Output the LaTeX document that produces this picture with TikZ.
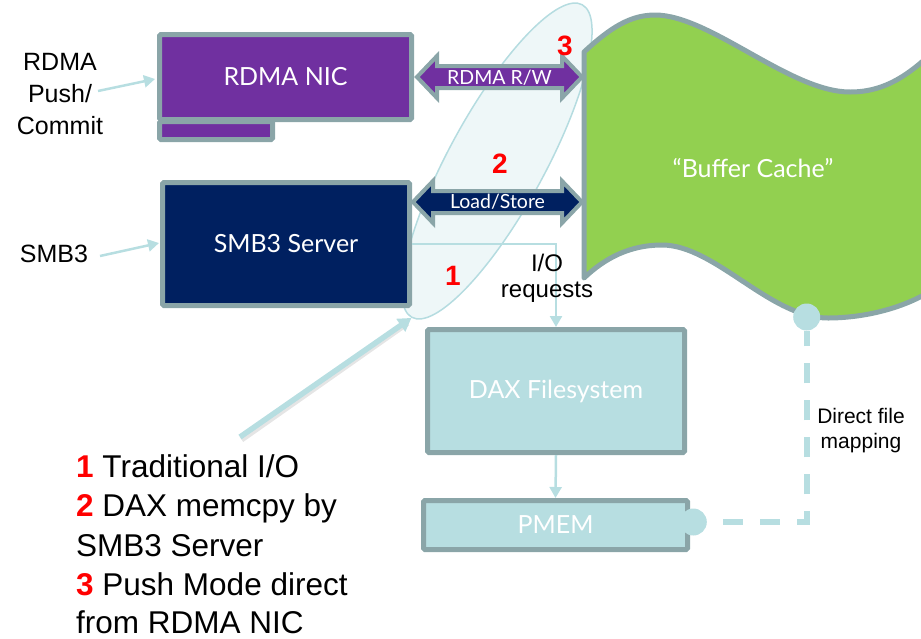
\documentclass[tikz,border=0pt]{standalone}
\usepackage{fontspec}
\setmainfont{Liberation Sans}
\newfontfamily\boxfont{Lato}
\usetikzlibrary{shapes.geometric,arrows.meta,calc}

\definecolor{edgegray}{HTML}{8AA5A8}
\definecolor{nicpurple}{HTML}{7030A0}
\definecolor{smbnavy}{HTML}{002060}
\definecolor{cachegreen}{HTML}{92D050}
\definecolor{paleblue}{HTML}{B7DEE1}
\definecolor{zonefill}{HTML}{EEF7F8}
\definecolor{zoneedge}{HTML}{B5DCE0}
\definecolor{tagred}{HTML}{FF0000}

% double-headed block arrow between two tips
\newcommand\twowayarrow[3]{%
  \draw[twoway, fill=#3] (#1) -- ++(20,-21) -- ++(0,10) -- ($(#2)+(-20,-11)$)
    -- ++(0,-10) -- (#2) -- ++(-20,21) -- ++(0,-10) -- ($(#1)+(20,11)$)
    -- ++(0,10) -- cycle;}

\tikzset{
  box/.style={draw=edgegray, line width=5pt, rounded corners=1.5pt, inner sep=0pt,
    text=white, font=\boxfont\fontsize{25}{30}\selectfont},
  twoway/.style={draw=edgegray, line width=4pt, line join=miter, miter limit=10},
  arrowlabel/.style={inner sep=0pt, text=white, font=\boxfont\fontsize{19.5}{20}\selectfont},
  feed/.style={draw=paleblue, line width=2.5pt, -{Triangle[width=12pt,length=11pt]}},
  plain/.style={inner sep=0pt, align=center},
  tag/.style={inner sep=0pt, text=tagred, font=\bfseries\fontsize{28}{30}\selectfont},
  legend/.style={inner sep=0pt, anchor=base west, font=\fontsize{31.5}{36}\selectfont},
  dot/.style={circle, fill=paleblue, minimum size=27pt, inner sep=0pt},
}

\begin{document}
\begin{tikzpicture}[x=1pt, y=-1pt]
\useasboundingbox (0,0) rectangle (921,638);

% highlighted zone around the three data paths
\node[ellipse, draw=zoneedge, fill=zonefill, line width=1.5pt, inner sep=0pt,
      minimum width=356pt, minimum height=96pt, rotate=61.4] (zone) at (497,161) {};

% buffer cache flag
\draw[draw=edgegray, fill=cachegreen, line width=5pt, line join=round]
  (584,52) .. controls (610,28) and (630,15) .. (655,15)
  .. controls (710,15) and (790,92) .. (850,92)
  .. controls (885,92) and (910,75) .. (940,45)
  -- (940,285)
  .. controls (905,310) and (860,318) .. (828,318)
  .. controls (770,318) and (715,245) .. (662,245)
  .. controls (630,245) and (605,258) .. (584,278) -- cycle;
\node[inner sep=0pt, text=white, font=\boxfont\fontsize{25}{30}\selectfont] (cache) at (753,168) {“Buffer Cache”};

% RDMA NIC card with its edge connector
\node[box, fill=nicpurple, minimum width=113pt, minimum height=18pt] (tab) at (216,130.5) {};
\node[box, fill=nicpurple, minimum width=252pt, minimum height=85pt] (nic) at (285.5,77) {RDMA NIC};

% SMB3 server
\node[box, fill=smbnavy, minimum width=247pt, minimum height=123pt] (smb) at (286,244) {SMB3 Server};

% DAX filesystem and PMEM
\node[box, fill=paleblue, minimum width=257pt, minimum height=123pt] (dax) at (556,391) {DAX Filesystem};
\node[box, fill=paleblue, minimum width=264pt, minimum height=49pt] (pmem) at (555.5,525) {PMEM};

% block arrows into the cache
\coordinate (rwL) at ($(nic.east)+(3,0)$);
\coordinate (rwR) at (582,77);
\twowayarrow{rwL}{rwR}{nicpurple}
\node[arrowlabel] (rw) at ($(rwL)!0.5!(rwR)+(0,1)$) {RDMA R/W};

\coordinate (lsL) at (413,202);
\coordinate (lsR) at (582,202);
\twowayarrow{lsL}{lsR}{smbnavy}
\node[arrowlabel] (ls) at ($(lsL)!0.5!(lsR)+(0,0)$) {Load/Store};

% traditional I/O path
\draw[feed] (smb.east) -| (dax.north);
\draw[feed] (dax.south) -- (pmem.north);
\node[plain, anchor=base, font=\fontsize{24}{25.5}\selectfont] (ioreq) at (547,297) {I/O\\requests};

% direct file mapping
\node[dot] (mapA) at (806.7,317) {};
\node[dot] (mapB) at (693.3,522) {};
\coordinate (mapC) at (mapA |- mapB);
\draw[paleblue, line width=6pt, dash pattern=on 20pt off 17pt] ($(mapB)+(30,0)$) -- (mapC) -- ($(mapA)+(0,14)$);
\node[plain, anchor=base, font=\fontsize{21}{25}\selectfont] (maptext) at (861,448) {Direct file\\mapping};

% protocol entry points
\node[plain, anchor=base, font=\fontsize{25}{32}\selectfont] (pushlbl) at (60,134) {RDMA\\Push/\\Commit};
\coordinate (pushfrom) at (98,91);
\draw[feed] (pushfrom) -- ($(nic.west)+(-2,2)$);
\node[plain, anchor=base, font=\fontsize{25}{30}\selectfont] (smblbl) at (54,262) {SMB3};
\coordinate (smbfrom) at (100,256);
\draw[feed] (smbfrom) -- ($(smb.west)+(-1,-1)$);

% path numbers
\node[tag, anchor=base] (n3) at (565,55) {3};
\node[tag, anchor=base] (n2) at (500,173) {2};
\node[tag, anchor=base] (n1) at (453,285) {1};

% legend and pointer to the zone
\coordinate (legtip) at (240,437);
\draw[line width=6pt, black, opacity=0.1] ($(legtip)+(1.5,2.5)$) -- ($(zone.west)+(-4,5)$);
\draw[paleblue, line width=5.5pt, -{Triangle[width=15pt,length=13pt]}] (legtip) -- (zone.west);

\node[legend] (leg1) at (76,477) {\textcolor{tagred}{\bfseries 1} Traditional I/O};
\node[legend] (leg2) at (76,516.5) {\textcolor{tagred}{\bfseries 2} DAX memcpy by};
\node[legend] (leg3) at (76,556) {SMB3 Server};
\node[legend] (leg4) at (76,595.5) {\textcolor{tagred}{\bfseries 3} Push Mode direct};
\node[legend] (leg5) at (76,633) {from RDMA NIC};
\end{tikzpicture}
\end{document}
